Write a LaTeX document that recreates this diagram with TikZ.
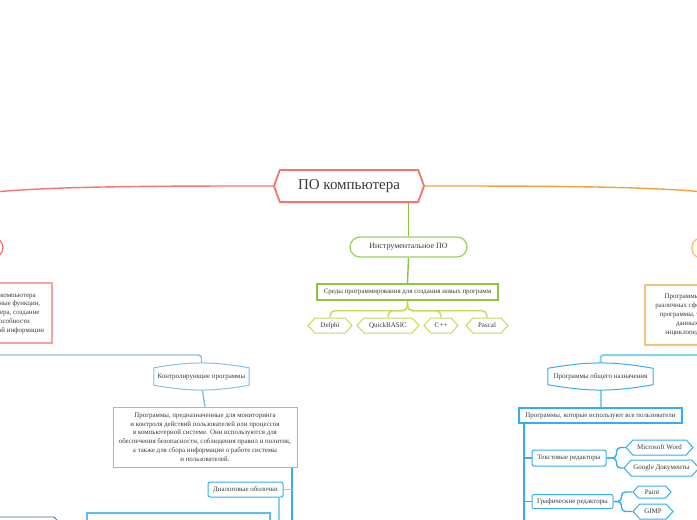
\documentclass[tikz,border=0pt]{standalone}
\usepackage{fontspec}
\setmainfont{Liberation Serif}
\usepackage{xcolor}
\usetikzlibrary{shapes.symbols,shadows,backgrounds}

\definecolor{ink}{HTML}{3A3A3A}
\definecolor{rootred}{HTML}{F77272}
\definecolor{sysred}{HTML}{F4A2A2}
\definecolor{apporange}{HTML}{F2A239}
\definecolor{appsand}{HTML}{F6C27F}
\definecolor{instrgreen}{HTML}{8CC63F}
\definecolor{langgreen}{HTML}{C8DA55}
\definecolor{ctrlblue}{HTML}{8DBEE5}
\definecolor{busblue}{HTML}{36ADEF}
\definecolor{genblue}{HTML}{86CFF5}
\definecolor{darkslate}{HTML}{46708F}

\begin{document}
\begin{tikzpicture}[
  x=1pt, y=-1pt,
  every node/.style={font=\fontsize{6.9}{8}\selectfont, text=ink},
  root/.style={signal, signal to=west and east, signal pointer angle=140,
    draw=rootred, line width=1.8pt, fill=white, minimum width=150pt,
    minimum height=32pt, font=\fontsize{15}{18}\selectfont,
    drop shadow={opacity=0.15, shadow xshift=0pt, shadow yshift=-1.5pt}},
  pill/.style={rectangle, draw, rounded corners=10pt, line width=1.2pt,
    fill=white, minimum height=20pt},
  hexa/.style={signal, signal to=west and east, signal pointer angle=95,
    draw, fill=white, line width=1pt, minimum height=15pt, inner xsep=2pt,
    font=\fontsize{7}{8}\selectfont},
  textbox/.style={rectangle, draw, fill=white, align=center,
    font=\fontsize{6.9}{8.8}\selectfont},
  topic/.style={rectangle, draw=busblue, rounded corners=2pt, fill=white,
    line width=1pt, minimum height=15pt},
  barrel/.style={rectangle, minimum height=17pt},
  link/.style={line width=1.4pt},
  bus/.style={line width=2.2pt, color=busblue},
]
\useasboundingbox (0,0) rectangle (697,520);
\clip (0,0) rectangle (697,520);

% ========= Root =========
\node[root] (root) at (349,186) {ПО компьютера};

% ========= Left: system software =========
\node[pill, draw=rootred, minimum width=100pt] (sys) at (-47,247.5) {};
\node[textbox, draw=sysred, line width=1.2pt, minimum width=190pt,
      minimum height=60pt] (sysbox) at (-43,313)
  {Программы, которые управляют работой компьютера\\
   и выполняют разнообразные вспомогательные функции,\\
   например, управление ресурсами компьютера, создание\\
   копий информации, проверка работоспособности\\
   компьютерных устройств, выдача справочной информации};

% ========= Middle: tool software =========
\node[pill, draw=instrgreen!85, minimum width=117pt,
      font=\fontsize{8}{9}\selectfont] (instr) at (408.5,247) {Инструментальное ПО};
\node[rectangle, draw=instrgreen, line width=1.5pt, fill=white,
      minimum width=181pt, minimum height=16pt] (env) at (407.5,292)
  {Среды программирования для создания новых программ};
\node[hexa, draw=langgreen, minimum width=44pt] (delphi) at (330,325.5) {Delphi};
\node[hexa, draw=langgreen, minimum width=62pt] (quick) at (388,325.5) {QuickBASIC};
\node[hexa, draw=langgreen, minimum width=34pt] (cpp) at (441,325.5) {C++};
\node[hexa, draw=langgreen, minimum width=42pt] (pascal) at (487,325.5) {Pascal};

% ========= Right: application software =========
\node[pill, draw=appsand!80!apporange, minimum width=100pt,
      minimum height=21pt] (app) at (742,248) {};
\node[textbox, draw=appsand, line width=1.5pt, minimum width=190pt,
      minimum height=60pt] (appbox) at (740,315)
  {Программы, предназначенные для решения задач в\\
   различных сферах деятельности пользователей: офисные\\
   программы, текстовые и графические редакторы, базы\\
   данных, учётные и обучающие программы,\\
   энциклопедии, справочники, игры и многое другое};

% ========= Control programs (left, lower) =========
\node[barrel, minimum width=95pt] (ctrl) at (201.5,376.5) {Контролирующие программы};
\node[textbox, draw=ctrlblue, line width=0.8pt, minimum width=184pt,
      minimum height=60pt] (ctrlbox) at (205,437)
  {Программы, предназначенные для мониторинга\\
   и контроля действий пользователей или процессов\\
   в компьютерной системе. Они используются для\\
   обеспечения безопасности, соблюдения правил и политик,\\
   а также для сбора информации о работе системы\\
   и пользователей.};
\node[topic, minimum width=75pt] (shells) at (245.5,489.5) {Диалоговые оболочки};
\node[rectangle, draw=busblue!80, line width=1.2pt, fill=white,
      minimum width=183pt, minimum height=32pt] (shellbox) at (178.5,529) {};
\node[hexa, draw=darkslate, line width=0.8pt, minimum width=104pt,
      minimum height=26pt] (darkhex) at (14,530) {};

% ========= General purpose programs (right, lower) =========
\node[barrel, minimum width=105pt, minimum height=16pt,
      font=\fontsize{7}{8}\selectfont] (general) at (600.5,376.5) {Программы общего назначения};
\node[topic, line width=1.5pt, rounded corners=0pt, minimum width=163pt]
  (allbox) at (600.5,415.5) {Программы, которые используют все пользователи};
\node[topic, minimum width=74pt, minimum height=16pt] (txt) at (569,458) {Текстовые редакторы};
\node[topic, minimum width=81pt, minimum height=14pt] (graph) at (572.5,501.5) {Графические редакторы};
\node[hexa, draw=busblue, minimum width=67pt] (word) at (659.5,447.5) {Microsoft Word};
\node[hexa, draw=busblue, minimum width=72pt, minimum height=16pt] (gdocs) at (661.5,468) {Google Документы};
\node[hexa, draw=busblue, minimum width=38pt, minimum height=12pt] (paint) at (652,492) {Paint};
\node[hexa, draw=busblue, minimum width=40pt] (gimp) at (653,511.5) {GIMP};

% ========= Connectors (behind the nodes) =========
\begin{scope}[on background layer]
\clip (0,0) rectangle (697,520);
\fill[white] (0,0) rectangle (697,520);

% main branches
\draw[link, rootred] (root.west) .. controls (50,186) and (-150,186) .. (sys.north);
\draw[link, apporange] (root.east) .. controls (650,186) and (850,186) .. (app.north);
\draw[link, instrgreen] (root.south -| instr.north) -- (instr.north);

% tool software
\draw[link, instrgreen] (instr.south) -- (env.north);
\draw[link, langgreen, rounded corners=5pt] (env.south) -- ++(0,10) -| (delphi.north);
\draw[link, langgreen, rounded corners=5pt] (env.south) -- ++(0,10) -| (quick.north);
\draw[link, langgreen, rounded corners=5pt] (env.south) -- ++(0,10) -| (cpp.north);
\draw[link, langgreen, rounded corners=5pt] (env.south) -- ++(0,10) -| (pascal.north);

% control programs
\coordinate (sysout) at (-60,355);
\coordinate (ctrlend) at (292,540);
\coordinate (shellend) at (279,540);
\draw[link, ctrlblue, rounded corners=3pt] (sysout) -| (ctrl.north);
\draw[link, ctrlblue] (ctrl.south) -- (ctrlbox.north);
\draw[bus] (ctrlbox.south -| ctrlend) -- (ctrlend);
\draw[link, genblue] (shells.east) -- (shells.east -| ctrlend);
\draw[link, genblue] (shells.south -| shellend) -- (shellend);

% general purpose programs
\coordinate (appout) at (760,355);
\coordinate (allend) at (524,540);
\draw[link, genblue, line width=2pt, rounded corners=3pt] (appout) -| (general.north);
\draw[link, genblue, line width=2pt] (general.south) -- (allbox.north);
\draw[bus] (allbox.south -| allend) -- (allend);
\draw[link, busblue] (txt.west -| allend) -- (txt.west);
\draw[link, busblue] (graph.west -| allend) -- (graph.west);
\draw[link, busblue, rounded corners=4pt] (txt.east) -- ++(10,0) |- (word.west);
\draw[link, busblue, rounded corners=4pt] (txt.east) -- ++(10,0) |- (gdocs.west);
\draw[link, busblue, rounded corners=4pt] (graph.east) -- ++(8,0) |- (paint.west);
\draw[link, busblue, rounded corners=4pt] (graph.east) -- ++(8,0) |- (gimp.west);

% barrel outlines
\draw[ctrlblue, line width=1pt, fill=white] (ctrl.north west) to[bend left=10] (ctrl.north east)
  -- (ctrl.south east) to[bend left=10] (ctrl.south west) -- cycle;
\draw[busblue, line width=1pt, fill=white] (general.north west) to[bend left=10] (general.north east)
  -- (general.south east) to[bend left=10] (general.south west) -- cycle;
\end{scope}

\end{tikzpicture}
\end{document}
